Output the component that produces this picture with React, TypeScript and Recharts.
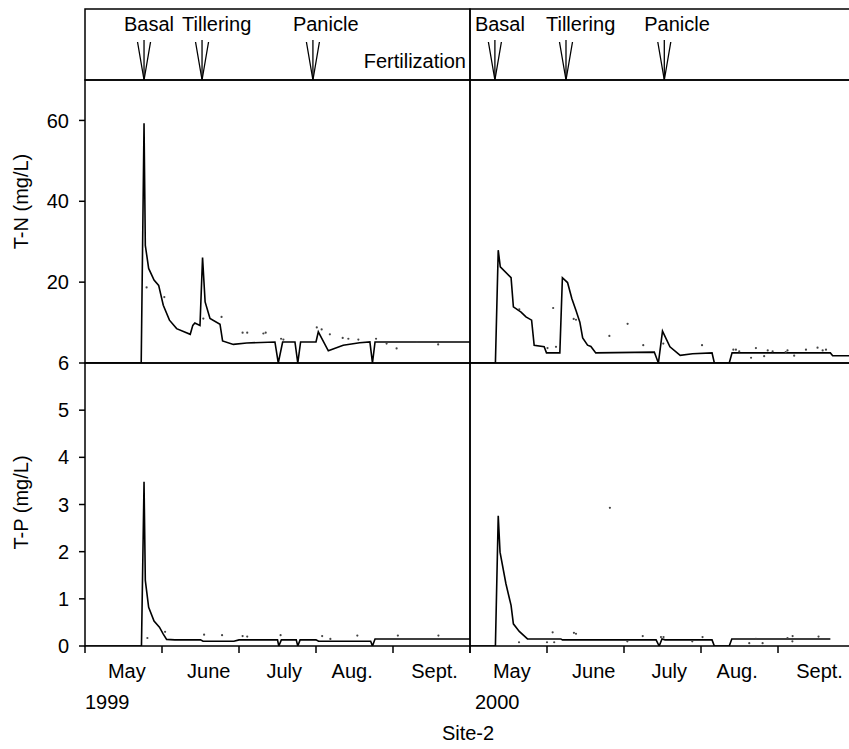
import { ComposedChart, ScatterChart, Line, Scatter, XAxis, YAxis, ReferenceArea } from 'recharts'

const FONT = '"Liberation Sans", Arial, Helvetica, sans-serif'
const FS = 20

// x = days from the start of the May axis, y = concentration (mg/L)
const TN_1999_LINE: [number, number][] = [
    [0, 0], [21.9, 0], [23, 59.3], [23.5, 29.1], [24.8, 23.4], [26.9, 20.5], [28.7, 19.2], [30.5, 14.3],
    [32.9, 10.6], [35.7, 8.5], [41, 7.1], [42, 9.3], [42.8, 9.9], [44.8, 9.3], [45.8, 26.1], [46.8, 15.1],
    [48.7, 11], [52.6, 9.6], [53.6, 5.45], [57.8, 4.6], [63, 4.95], [74, 5.2], [75.3, 0], [77, 5.2],
    [81.8, 5.2], [82.9, 0], [84, 5.2], [90, 5.2], [90.9, 7.7], [94.8, 3.0], [100.6, 4.4], [107, 5.0],
    [111, 5.2], [112, 0], [113, 5.2], [150, 5.2],
]
const TN_1999_OBS: [number, number][] = [
    [24, 18.7], [30.9, 16.3], [46.1, 11.0], [53.2, 11.4], [61.4, 7.5], [63.2, 7.5], [69.5, 7.3], [70.4, 7.5],
    [76.4, 6.0], [77.3, 5.8], [90.3, 8.8], [92.2, 8.3], [95.4, 7.1], [100.4, 6.2], [102.6, 6.0], [106.5, 5.8],
    [113.4, 6.0], [117.5, 4.8], [121.4, 3.6], [129.2, 5.2], [137.6, 4.6],
]
const TN_2000_LINE: [number, number][] = [
    [0, 0], [9.9, 0], [11, 27.9], [11.8, 23.8], [16, 21.1], [16.9, 13.9], [19.9, 12.6], [21.8, 11.4],
    [24, 10.6], [25, 4.4], [28.9, 4.0], [29.8, 2.5], [35, 2.5], [36, 21.1], [38, 19.9], [39.7, 15.9],
    [41.3, 13.0], [42.8, 10.1], [43.9, 6.2], [45.8, 4.4], [47.1, 4.1], [49, 2.5], [71.8, 2.7], [73.4, 0],
    [75, 7.9], [77.9, 4.0], [81.9, 1.9], [86.7, 2.3], [94.3, 2.5], [95.2, 0], [101, 0], [102.1, 2.5],
    [140.4, 2.5], [141.3, 1.8], [150, 1.8],
]
const TN_2000_OBS: [number, number][] = [
    [19.2, 13.3], [30.2, 3.7], [32.4, 13.6], [33.5, 4.0], [40.4, 10.9], [41.3, 10.7], [54.3, 6.7], [61.4, 9.7],
    [67.5, 4.4], [75.3, 4.8], [90.4, 4.4], [102.6, 3.3], [103.6, 3.3], [104.9, 2.9], [109.5, 1.3], [111.4, 3.7],
    [114.6, 1.7], [116, 3.1], [117.9, 2.9], [123, 2.7], [123.7, 3.1], [126.3, 1.8], [130.9, 3.3], [135.4, 3.8],
    [137.4, 3.1], [138.7, 3.3],
]
const TP_1999_LINE: [number, number][] = [
    [0, 0], [22, 0], [23, 3.48], [23.5, 1.39], [24.8, 0.82], [26.9, 0.53], [29, 0.4], [30.5, 0.25],
    [31.8, 0.14], [35, 0.13], [45, 0.13], [46, 0.1], [58, 0.1], [60, 0.13], [75, 0.13], [75.5, 0],
    [76.5, 0.13], [82.3, 0.13], [82.9, 0], [83.8, 0.13], [90, 0.13], [91, 0.1], [111.3, 0.1], [112, 0],
    [113, 0.15], [150, 0.15],
]
const TP_1999_OBS: [number, number][] = [
    [24.3, 0.17], [31.2, 0.3], [46.4, 0.24], [53.4, 0.23], [61.4, 0.21], [63.2, 0.2], [76.2, 0.23],
    [92.4, 0.21], [95.6, 0.15], [106.1, 0.22], [121.9, 0.22], [137.7, 0.22],
]
const TP_2000_LINE: [number, number][] = [
    [0, 0], [9.9, 0], [11, 2.76], [11.7, 1.99], [14, 1.32], [16, 0.86], [16.9, 0.47], [19.2, 0.31],
    [22.4, 0.15], [35.4, 0.15], [36, 0.13], [72.5, 0.13], [73.7, 0], [74.8, 0.15], [76, 0.13], [94.3, 0.13],
    [95.2, 0], [101, 0], [102, 0.15], [140.4, 0.15],
]
const TP_2000_OBS: [number, number][] = [
    [19.1, 0.08], [30, 0.08], [32.2, 0.29], [32.8, 0.08], [40.5, 0.28], [41.3, 0.26], [54.5, 2.93],
    [61.3, 0.1], [67.3, 0.21], [74.4, 0.19], [75.4, 0.19], [86.6, 0.1], [90.6, 0.19], [108.8, 0.06],
    [111.4, 0.15], [114, 0.06], [123.7, 0.17], [125.6, 0.1], [125.7, 0.21], [135.8, 0.2],
]

const X_TICKS = [0, 30, 60, 90, 120, 150]
const MONTHS = ['May', 'June', 'July', 'Aug.', 'Sept.']
const MONTH_DAYS = [16.3, 48.2, 77.6, 104.1, 136.2]
const TN_TICKS = [20, 40, 60]
const TP_TICKS = [0, 1, 2, 3, 4, 5, 6]
const FERT_STAGES = ['Basal', 'Tillering', 'Panicle']
const FERT_1999 = [23, 45.6, 88.8]
const FERT_2000 = [9.7, 37.4, 75.7]
const YEARS = ['1999', '2000']

const PLOT_W = 385
const PLOT_H = 283
const STRIP_H = 71
const COL_X = [85, 470]
const STRIP_TOP = 9
const TN_TOP = 80
const TP_TOP = 363
const PAD = 12

const toRows = (pts: [number, number][]) => pts.map(([day, v]) => ({ day, v }))

const renderDot = (p: any) => <circle cx={p.cx} cy={p.cy} r={1.1} fill="#444" />

const renderArrow = (p: any) => {
    const { cx, cy, payload } = p
    return (
        <g>
            <text x={cx - 20} y={cy - 49} fontSize={FS} fontFamily={FONT} fill="#000">
                {payload.name}
            </text>
            <line x1={cx} y1={cy - 40} x2={cx} y2={cy} stroke="#000" strokeWidth={1.3} />
            <polyline
                points={`${cx - 6.5},${cy - 38} ${cx},${cy} ${cx + 6.5},${cy - 38}`}
                fill="none"
                stroke="#000"
                strokeWidth={1.3}
            />
        </g>
    )
}

const renderMonthTick = (p: any) => {
    const { x, y, payload } = p
    const i = MONTH_DAYS.indexOf(payload.value)
    if (i >= 0) {
        return (
            <text x={x} y={y + 32} textAnchor="middle" fontSize={FS} fontFamily={FONT} fill="#000">
                {MONTHS[i]}
            </text>
        )
    }
    return <line x1={x} y1={y} x2={x} y2={y + 7} stroke="#000" strokeWidth={1.5} />
}

interface StripProps {
    left: number
    days: number[]
    note?: string
}

function Strip({ left, days, note }: StripProps) {
    const data = days.map((day, i) => ({ day, y: 0, name: FERT_STAGES[i] }))
    return (
        <div style={{ position: 'absolute', left: left - PAD, top: STRIP_TOP - PAD }}>
            <ScatterChart
                width={PLOT_W + 2 * PAD}
                height={STRIP_H + 2 * PAD}
                margin={{ top: PAD, right: PAD, bottom: PAD, left: PAD }}
            >
                <XAxis type="number" dataKey="day" domain={[0, 150]} hide />
                <YAxis type="number" dataKey="y" domain={[0, 1]} hide />
                <ReferenceArea
                    x1={0}
                    x2={150}
                    y1={0}
                    y2={1}
                    fill="none"
                    fillOpacity={0}
                    stroke="#000"
                    strokeWidth={1.5}
                    label={
                        note
                            ? {
                                  content: ({ viewBox }: any) => (
                                      <text
                                          x={viewBox.x + viewBox.width - 4}
                                          y={viewBox.y + viewBox.height - 12}
                                          textAnchor="end"
                                          fontSize={FS}
                                          fontFamily={FONT}
                                          fill="#000"
                                      >
                                          {note}
                                      </text>
                                  ),
                              }
                            : undefined
                    }
                />
                <Scatter data={data} shape={renderArrow} isAnimationActive={false} />
            </ScatterChart>
        </div>
    )
}

interface PanelProps {
    left: number
    top: number
    line: [number, number][]
    obs: [number, number][]
    yMax: number
    yTicks: number[]
    yLabel?: string
    labelShift?: number
    bottom?: boolean
}

function Panel({ left, top, line, obs, yMax, yTicks, yLabel, labelShift = 0, bottom }: PanelProps) {
    const yW = yLabel ? 85 : 10
    const xH = bottom ? 45 : 10
    const lineRows = toRows(line)
    const obsRows = toRows(obs)
    const tickStyle = { fill: '#000', fontSize: FS, fontFamily: FONT }
    return (
        <div style={{ position: 'absolute', left: left - yW, top: top - PAD }}>
            <ComposedChart
                width={yW + PLOT_W + PAD}
                height={PAD + PLOT_H + xH}
                margin={{ top: PAD, right: PAD, bottom: 0, left: 0 }}
            >
                {bottom ? (
                    <XAxis
                        type="number"
                        dataKey="day"
                        domain={[0, 150]}
                        ticks={[...X_TICKS, ...MONTH_DAYS].sort((a, b) => a - b)}
                        interval={0}
                        height={xH}
                        axisLine={false}
                        tickLine={false}
                        tickSize={0}
                        tickMargin={0}
                        tick={renderMonthTick}
                    />
                ) : (
                    <XAxis
                        type="number"
                        dataKey="day"
                        domain={[0, 150]}
                        ticks={X_TICKS}
                        interval={0}
                        height={xH}
                        axisLine={false}
                        tickLine={{ stroke: '#000', strokeWidth: 1.5 }}
                        tickSize={6}
                        tick={false}
                    />
                )}
                <YAxis
                    type="number"
                    dataKey="v"
                    domain={[0, yMax]}
                    allowDataOverflow
                    ticks={yTicks}
                    interval={0}
                    width={yW}
                    axisLine={false}
                    tickLine={{ stroke: '#000', strokeWidth: 1.5 }}
                    tickSize={6}
                    tickMargin={10}
                    tick={yLabel ? tickStyle : false}
                    label={
                        yLabel
                            ? {
                                  content: ({ viewBox }: any) => {
                                      const cy = viewBox.y + viewBox.height / 2 + labelShift
                                      return (
                                          <text
                                              x={28}
                                              y={cy}
                                              transform={`rotate(-90 28 ${cy})`}
                                              textAnchor="middle"
                                              fontSize={FS}
                                              fontFamily={FONT}
                                              fill="#000"
                                          >
                                              {yLabel}
                                          </text>
                                      )
                                  },
                              }
                            : undefined
                    }
                />
                <ReferenceArea
                    x1={0}
                    x2={150}
                    y1={0}
                    y2={yMax}
                    fill="none"
                    fillOpacity={0}
                    stroke="#000"
                    strokeWidth={1.5}
                />
                <Scatter data={obsRows} dataKey="v" shape={renderDot} isAnimationActive={false} />
                <Line
                    data={lineRows}
                    dataKey="v"
                    type="linear"
                    stroke="#000"
                    strokeWidth={1.6}
                    dot={false}
                    activeDot={false}
                    isAnimationActive={false}
                />
            </ComposedChart>
        </div>
    )
}

export default function App() {
    return (
        <div
            style={{
                position: 'fixed',
                left: 0,
                top: 0,
                width: 849,
                height: 749,
                overflow: 'hidden',
                background: '#fff',
                fontFamily: FONT,
            }}
        >
            <Panel left={COL_X[0]} top={TP_TOP} line={TP_1999_LINE} obs={TP_1999_OBS} yMax={6} yTicks={TP_TICKS} yLabel="T-P (mg/L)" labelShift={-2} bottom />
            <Panel left={COL_X[1]} top={TP_TOP} line={TP_2000_LINE} obs={TP_2000_OBS} yMax={6} yTicks={TP_TICKS} bottom />
            <Panel left={COL_X[0]} top={TN_TOP} line={TN_1999_LINE} obs={TN_1999_OBS} yMax={70} yTicks={TN_TICKS} yLabel="T-N (mg/L)" labelShift={-20} />
            <Panel left={COL_X[1]} top={TN_TOP} line={TN_2000_LINE} obs={TN_2000_OBS} yMax={70} yTicks={TN_TICKS} />
            <Strip left={COL_X[0]} days={FERT_1999} note="Fertilization" />
            <Strip left={COL_X[1]} days={FERT_2000} />
            <svg width={849} height={749} style={{ position: 'absolute', left: 0, top: 0, pointerEvents: 'none' }}>
                {YEARS.map((y, i) => (
                    <text key={y} x={COL_X[i] + (i ? 5 : 0)} y={709} fontSize={FS} fontFamily={FONT} fill="#000">
                        {y}
                    </text>
                ))}
                <text x={468} y={740} textAnchor="middle" fontSize={FS} fontFamily={FONT} fill="#000">
                    Site-2
                </text>
            </svg>
        </div>
    )
}
